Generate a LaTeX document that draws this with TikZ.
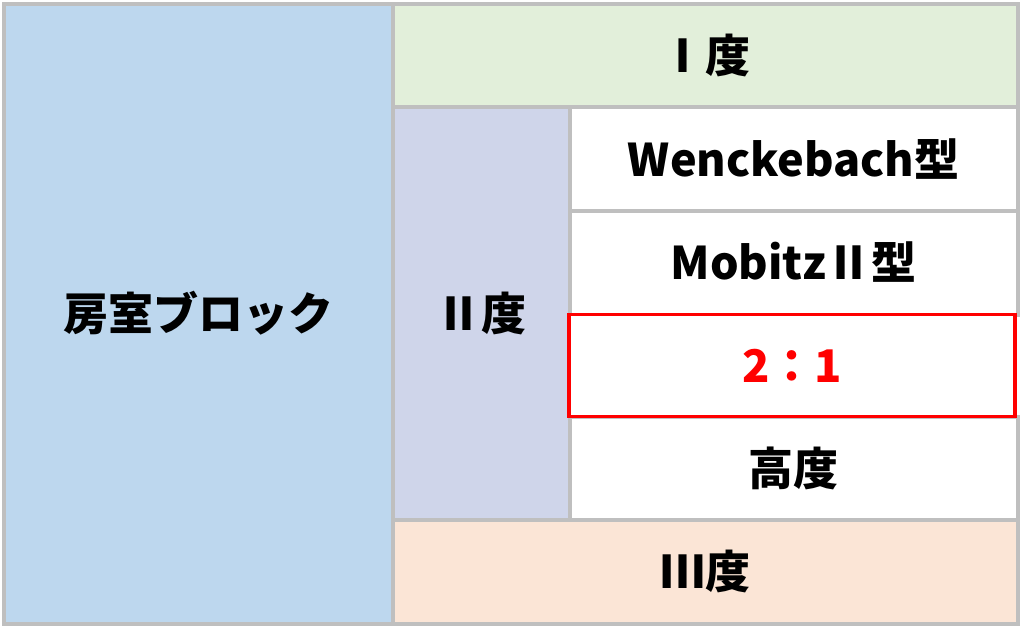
\documentclass[tikz,border=0pt]{standalone}
\usepackage{fontspec}
\setmainfont{Noto Sans CJK JP}
\definecolor{cblue}{HTML}{BDD7EE}
\definecolor{cgreen}{HTML}{E2EFDA}
\definecolor{clav}{HTML}{CFD5EA}
\definecolor{cpeach}{HTML}{FBE5D6}
\definecolor{cgray}{HTML}{BFBFBF}
\definecolor{cred}{HTML}{FF0000}
\tikzset{
  cell/.style={draw=cgray, line width=4pt, rectangle, inner sep=0pt,
    font=\fontsize{45}{52}\selectfont\bfseries, text=black},
  redcell/.style={cell, draw=cred, line width=3.5pt, text=cred}
}
\begin{document}
\begin{tikzpicture}[x=1pt,y=-1pt]
\useasboundingbox (0,0) rectangle (1024,629);
\node[cell, fill=cblue, minimum width=389.5pt, minimum height=620pt] (av) at (198.25,313.5) {房室ブロック};
\node[cell, fill=cgreen, minimum width=625pt, minimum height=103.5pt] (d1) at (705.5,55.25) {Ⅰ度};
\node[cell, fill=clav, minimum width=176.5pt, minimum height=413pt] (d2) at (481.25,313.5) {Ⅱ度};
\node[cell, fill=white, minimum width=448.5pt, minimum height=103.5pt] (wb) at (793.75,158.75) {Wenckebach型};
\node[cell, fill=white, minimum width=448.5pt, minimum height=104pt] (mb) at (793.75,262.5) {MobitzⅡ型};
\node[cell, fill=white, minimum width=448.5pt, minimum height=103.5pt] (hd) at (793.75,468.25) {高度};
\node[cell, fill=cpeach, minimum width=625pt, minimum height=103.5pt] (d3) at (705.5,571.75) {Ⅲ度};
\node[redcell, fill=white, minimum width=446pt, minimum height=102pt] (tw) at (792,365.5) {2：1};
\end{tikzpicture}
\end{document}
